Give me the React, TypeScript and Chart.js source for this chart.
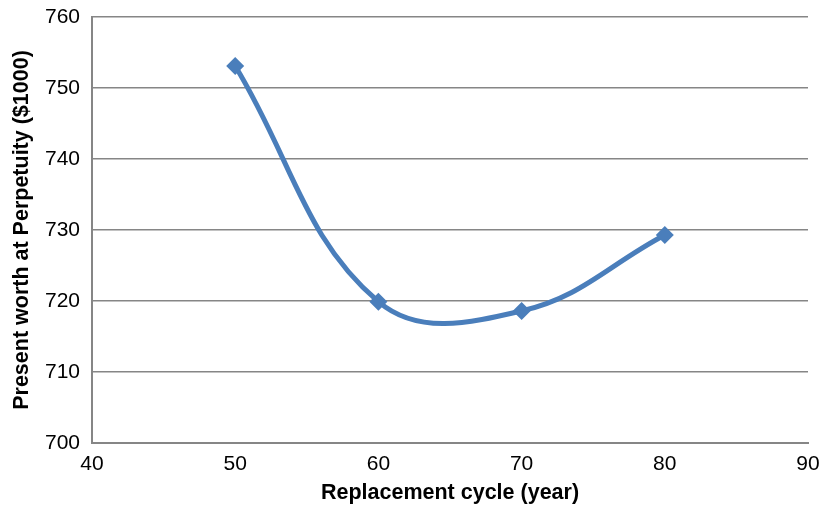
import React, { useEffect, useRef } from "react";
import { Chart, registerables } from "chart.js";

Chart.register(...registerables);

const cycles = [50, 60, 70, 80];
const presentWorth = [753.1, 719.9, 718.6, 729.3];
const xTicksMin = 40;
const xTicksMax = 90;
const yTicksMin = 700;
const yTicksMax = 760;
const xTitle = "Replacement cycle (year)";
const yTitle = "Present worth at Perpetuity ($1000)";

const FONT = "Liberation Sans, Arial, sans-serif";

export default function App() {
  const ref = useRef<HTMLCanvasElement>(null);
  useEffect(() => {
    if (!ref.current) return;
    const chart = new Chart(ref.current, {
      type: "line",
      data: {
        datasets: [
          {
            data: cycles.map((x, i) => ({ x, y: presentWorth[i] })),
            borderColor: "#4a7ebb",
            backgroundColor: "#4a7ebb",
            borderWidth: 5,
            pointStyle: "rectRot",
            pointRadius: 9,
            pointBorderWidth: 0,
            tension: 0.4,
          },
        ],
      },
      options: {
        animation: false,
        responsive: false,
        layout: { padding: { top: 0, right: 1, left: 0, bottom: 0 } },
        plugins: { legend: { display: false }, tooltip: { enabled: false } },
        scales: {
          x: {
            type: "linear",
            min: xTicksMin,
            max: xTicksMax,
            ticks: { stepSize: 10, color: "#000", font: { family: FONT, size: 21 }, padding: 9 },
            grid: { display: false, drawTicks: false },
            border: { display: true, color: "#868686", width: 2 },
            title: { display: true, text: xTitle, color: "#000", font: { family: FONT, size: 21.5, weight: "bold" }, padding: { top: 0, bottom: 1 } },
            afterFit: (s: any) => { s.height = 64; s.paddingRight = 16; },
          },
          y: {
            min: yTicksMin,
            max: yTicksMax,
            ticks: { stepSize: 10, color: "#000", font: { family: FONT, size: 21 }, padding: 12 },
            grid: { color: "#868686", lineWidth: 1.5, drawTicks: false },
            border: { display: true, color: "#868686", width: 2 },
            title: { display: true, text: yTitle, color: "#000", font: { family: FONT, size: 21.5, weight: "bold" }, padding: { top: 9, bottom: 0 } },
            afterFit: (s: any) => { s.width = 92; s.paddingTop = 17; },
          },
        },
      },
    });
    return () => chart.destroy();
  }, []);
  return (
    <div style={{ position: "absolute", left: 0, top: 0, width: 824, height: 507, background: "#fff" }}>
      <canvas ref={ref} width={824} height={507} />
    </div>
  );
}
